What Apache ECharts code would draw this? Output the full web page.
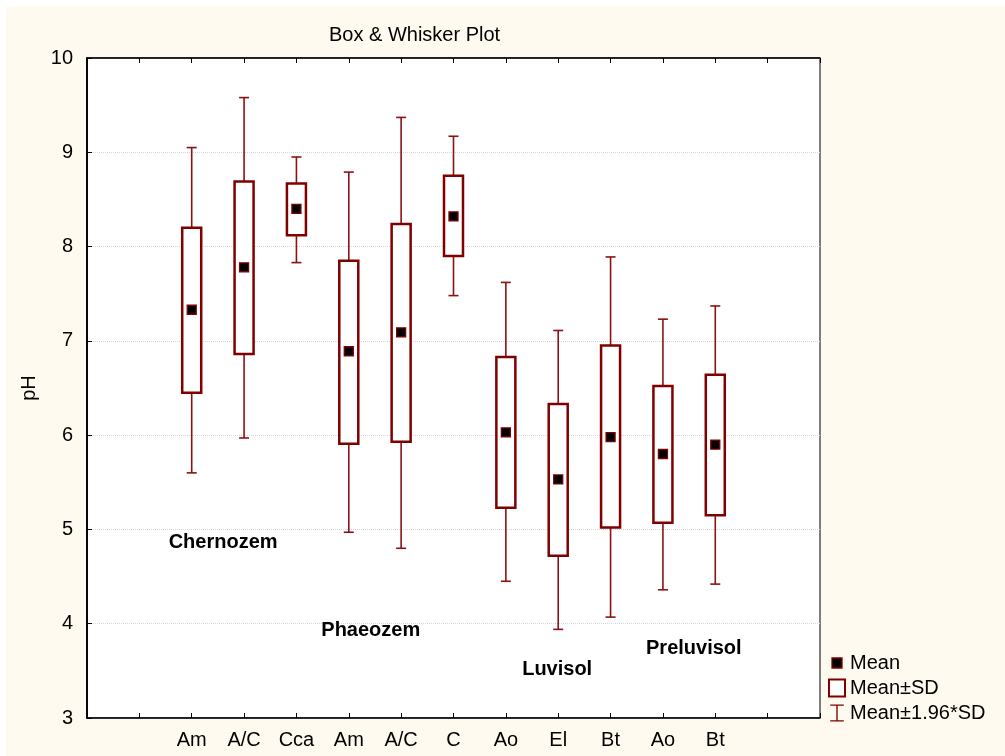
<!DOCTYPE html>
<html>
<head>
<meta charset="utf-8">
<script src="https://cdn.jsdelivr.net/npm/echarts@6/dist/echarts.min.js"></script>
<style>
  html, body { margin: 0; padding: 0; background: #fff; }
  #chart { position: absolute; left: 6px; top: 6px; width: 999px; height: 750px; }
</style>
</head>
<body>
<div id="chart"></div>
<script>
// horizon positions on the x scale and their labels
const positions = [2, 3, 4, 5, 6, 7, 8, 9, 10, 11, 12]
const horizons = ['Am', 'A/C', 'Cca', 'Am', 'A/C', 'C', 'Ao', 'El', 'Bt', 'Ao', 'Bt']

// pH values
const means = [7.33, 7.78, 8.40, 6.89, 7.09, 8.32, 6.03, 5.53, 5.98, 5.80, 5.90]
const sdLow = [6.45, 6.86, 8.12, 5.91, 5.93, 7.90, 5.23, 4.72, 5.02, 5.07, 5.15]
const sdHigh = [8.20, 8.69, 8.67, 7.85, 8.24, 8.75, 6.83, 6.33, 6.95, 6.52, 6.64]
const ciLow = [5.60, 5.97, 7.83, 4.97, 4.80, 7.48, 4.45, 3.94, 4.07, 4.36, 4.42]
const ciHigh = [9.05, 9.58, 8.95, 8.79, 9.37, 9.17, 7.62, 7.11, 7.89, 7.23, 7.37]

// soil group annotations (data coords)
const groupNames = ['Chernozem', 'Phaeozem', 'Luvisol', 'Preluvisol']
const groupX = [2.6, 5.42, 8.98, 11.59]
const groupY = [4.86, 3.93, 3.51, 3.74]

const yTicks = [3, 4, 5, 6, 7, 8, 9, 10]

const RED = '#800000'
const FONT = 'Arial, "Liberation Sans", sans-serif'
const FS = 20

const chart = echarts.init(document.getElementById('chart'))

const whiskerData = positions.map((x, i) => [x, ciLow[i], ciHigh[i], sdLow[i], sdHigh[i]])
const boxData = positions.map((x, i) => [x, sdLow[i], sdHigh[i]])
const meanData = positions.map((x, i) => [x, means[i]])
const groupData = groupNames.map((n, i) => [groupX[i], groupY[i], i])

function renderWhisker(params, api) {
  const x = api.value(0)
  const top = api.coord([x, api.value(2)])
  const bot = api.coord([x, api.value(1)])
  const bHi = api.coord([x, api.value(4)])
  const bLo = api.coord([x, api.value(3)])
  const cap = 5
  const style = { stroke: '#8a1212', lineWidth: 1.6, fill: null }
  return {
    type: 'group',
    children: [
      { type: 'line', shape: { x1: top[0], y1: top[1], x2: bHi[0], y2: bHi[1] }, style },
      { type: 'line', shape: { x1: bLo[0], y1: bLo[1], x2: bot[0], y2: bot[1] }, style },
      { type: 'line', shape: { x1: top[0] - cap, y1: top[1], x2: top[0] + cap, y2: top[1] }, style },
      { type: 'line', shape: { x1: bot[0] - cap, y1: bot[1], x2: bot[0] + cap, y2: bot[1] }, style },
    ],
  }
}

function renderBox(params, api) {
  const x = api.value(0)
  const hi = api.coord([x, api.value(2)])
  const lo = api.coord([x, api.value(1)])
  const w = 19
  return {
    type: 'rect',
    shape: { x: hi[0] - w / 2, y: hi[1], width: w, height: lo[1] - hi[1] },
    style: { fill: '#fff', stroke: RED, lineWidth: 2.5 },
  }
}

function renderMean(params, api) {
  const p = api.coord([api.value(0), api.value(1)])
  const s = 9
  return {
    type: 'rect',
    shape: { x: p[0] - s / 2, y: p[1] - s / 2, width: s, height: s },
    style: { fill: '#000', stroke: RED, lineWidth: 1.3 },
  }
}

function renderGroup(params, api) {
  const p = api.coord([api.value(0), api.value(1)])
  return {
    type: 'text',
    x: p[0],
    y: p[1],
    style: {
      text: groupNames[api.value(2)],
      fill: '#000',
      font: 'bold ' + FS + 'px ' + FONT,
      align: 'center',
      verticalAlign: 'middle',
    },
  }
}

chart.setOption({
  animation: false,
  backgroundColor: '#fffaf0',
  textStyle: { fontFamily: FONT },
  title: {
    text: 'Box & Whisker Plot',
    left: 318,
    top: 14,
    textStyle: { fontSize: FS, fontWeight: 'normal', color: '#000', fontFamily: FONT },
  },
  legend: {
    orient: 'vertical',
    left: 817,
    top: 642,
    itemWidth: 16,
    itemHeight: 17,
    itemGap: 5,
    textStyle: { fontSize: FS, color: '#000', fontFamily: FONT },
    selectedMode: false,
    data: [
      { name: 'Mean', icon: 'path://M0,0M16,16M3,3H13V13H3Z', itemStyle: { color: '#000', borderColor: RED, borderWidth: 1.3 } },
      { name: 'Mean±SD', icon: 'rect', itemStyle: { color: '#fff', borderColor: RED, borderWidth: 2 } },
      { name: 'Mean±1.96*SD', icon: 'path://M0,0H16V1.6H8.8V18.4H16V20H0V18.4H7.2V1.6H0Z', itemStyle: { color: RED, borderWidth: 0 } },
    ],
  },
  grid: { left: 81, right: 185, top: 52, bottom: 38, show: true, backgroundColor: '#fff', borderColor: '#000', borderWidth: 1 },
  xAxis: [
    {
      type: 'value', min: 0, max: 14, interval: 1,
      axisLine: { lineStyle: { color: '#000', width: 1.5 } },
      axisTick: { inside: true, length: 5, lineStyle: { color: '#000' } },
      axisLabel: {
        fontSize: FS, color: '#000', margin: 12,
        formatter: (v) => { const i = positions.indexOf(v); return i >= 0 ? horizons[i] : '' },
      },
      splitLine: { show: false },
    },
    {
      type: 'value', position: 'top', min: 0, max: 14, interval: 1,
      axisLine: { lineStyle: { color: '#000', width: 1.5 } },
      axisTick: { inside: true, length: 5, lineStyle: { color: '#000' } },
      axisLabel: { show: false },
      splitLine: { show: false },
    },
  ],
  yAxis: [
    {
      type: 'value', min: yTicks[0], max: yTicks[yTicks.length - 1], interval: 1,
      name: 'pH', nameLocation: 'middle', nameGap: 47,
      nameTextStyle: { fontSize: FS, color: '#000' },
      axisLine: { lineStyle: { color: '#000', width: 1.5 } },
      axisTick: { inside: true, length: 5, lineStyle: { color: '#000' } },
      axisLabel: { fontSize: FS, color: '#000', margin: 14 },
      splitLine: { lineStyle: { color: '#d6d6d6', type: 'dotted', width: 1 } },
    },
    {
      type: 'value', position: 'right', min: yTicks[0], max: yTicks[yTicks.length - 1], interval: 1,
      axisLine: { lineStyle: { color: '#000', width: 1.5 } },
      axisTick: { show: false },
      axisLabel: { show: false },
      splitLine: { show: false },
    },
  ],
  series: [
    { name: 'Mean±1.96*SD', type: 'custom', renderItem: renderWhisker, data: whiskerData, encode: { x: 0, y: [1, 2] }, itemStyle: { color: RED }, z: 2 },
    { name: 'Mean±SD', type: 'custom', renderItem: renderBox, data: boxData, encode: { x: 0, y: [1, 2] }, itemStyle: { color: RED }, z: 3 },
    { name: 'Mean', type: 'custom', renderItem: renderMean, data: meanData, encode: { x: 0, y: 1 }, itemStyle: { color: '#000' }, z: 4 },
    { name: 'groups', type: 'custom', renderItem: renderGroup, data: groupData, encode: { x: 0, y: 1 }, silent: true, z: 5 },
  ],
})
</script>
</body>
</html>
